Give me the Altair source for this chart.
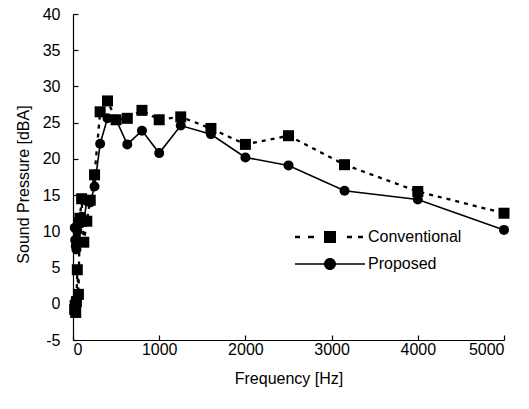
import altair as alt
import pandas as pd

freq = [20, 25, 31.5, 40, 50, 63, 80, 100, 125, 160, 200, 250, 315, 400, 500,
        630, 800, 1000, 1250, 1600, 2000, 2500, 3150, 4000, 5000]
conventional = [-0.8, -0.2, -1.2, 0.3, 4.7, 1.3, 11.8, 14.5, 8.5, 11.4, 14.3, 17.8,
                26.5, 28.0, 25.4, 25.6, 26.7, 25.4, 25.8, 24.2, 22.0, 23.2, 19.2, 15.5, 12.5]
proposed = [10.5, 8.8, 8.0, 7.5, 10.0, 11.5, 11.0, 12.0, 11.3, 14.2, 14.0, 16.2,
            22.1, 25.6, 25.4, 22.0, 23.9, 20.8, 24.6, 23.4, 20.2, 19.1, 15.6, 14.4, 10.2]
series_names = ["Conventional", "Proposed"]
x_ticks = [0, 1000, 2000, 3000, 4000, 5000]
y_ticks = [-5, 0, 5, 10, 15, 20, 25, 30, 35, 40]

rows = []
for f, c, p in zip(freq, conventional, proposed):
    rows.append({"freq": f, "spl": c, "series": "Conventional"})
    rows.append({"freq": f, "spl": p, "series": "Proposed"})
df = pd.DataFrame(rows)

FONT = "Liberation Sans"


def p(v):
    return f"{v / 8:.4f}"


def rect(x0, x1, y0, y1):
    return f"M{p(x0)},{p(y0)}L{p(x1)},{p(y0)}L{p(x1)},{p(y1)}L{p(x0)},{p(y1)}Z"


conv_path = (rect(-35, -30, -1.2, 1.2) + rect(-22, -16, -1.2, 1.2) + rect(-6, 6, -6, 6)
             + rect(17, 22, -1.2, 1.2) + rect(28, 33, -1.2, 1.2))
r = 6
prop_path = (rect(-35, 35, -0.8, 0.8)
             + f"M{p(r)},0A{p(r)},{p(r)} 0 1,1 {p(-r)},0A{p(r)},{p(r)} 0 1,1 {p(r)},0Z")

x_enc = alt.X("freq:Q", scale=alt.Scale(domain=[0, 5000], nice=False),
              axis=alt.Axis(values=x_ticks, title="Frequency [Hz]", labelPadding=6,
                            titlePadding=13, labelExpr="toString(datum.value)"))
y_enc = alt.Y("spl:Q", scale=alt.Scale(domain=[-5, 40], nice=False),
              axis=alt.Axis(values=y_ticks, title="Sound Pressure [dBA]",
                            titleX=-45, titleY=170, titleBaseline="alphabetic",
                            labelPadding=18, labelExpr="toString(datum.value)"))

base = alt.Chart(df)

conv_line = base.transform_filter(alt.datum.series == "Conventional").mark_line(
    color="black", strokeWidth=2.3, strokeDash=[4, 5]).encode(x=x_enc, y=y_enc)
prop_line = base.transform_filter(alt.datum.series == "Proposed").mark_line(
    color="black", strokeWidth=1.6).encode(x=x_enc, y=y_enc)
conv_pts = base.transform_filter(alt.datum.series == "Conventional").mark_point(
    shape="square", filled=True, color="black", opacity=1, size=121).encode(x=x_enc, y=y_enc)
prop_pts = base.transform_filter(alt.datum.series == "Proposed").mark_point(
    shape="circle", filled=True, color="black", opacity=1, size=100).encode(x=x_enc, y=y_enc)

legend_layer = base.mark_point(filled=True, color="black", opacity=0, size=256).encode(
    x=x_enc, y=y_enc,
    shape=alt.Shape("series:N",
                    scale=alt.Scale(domain=series_names, range=[conv_path, prop_path]),
                    legend=alt.Legend(title=None, orient="none", legendX=249, legendY=215,
                                      symbolSize=256, symbolOpacity=1,
                                      symbolFillColor="black", symbolStrokeWidth=0,
                                      labelOffset=30, rowPadding=11, padding=0,
                                      labelFont=FONT, labelFontSize=16,
                                      labelColor="black")))

chart = alt.layer(conv_line, prop_line, conv_pts, prop_pts, legend_layer).properties(
    width=431, height=326,
    autosize=alt.AutoSizeParams(type="none"),
    padding={"left": 73, "top": 14, "right": 25, "bottom": 69},
    background="white",
).configure_view(stroke=None).configure_axis(
    grid=False, labelFont=FONT, titleFont=FONT, labelFontSize=16, titleFontSize=16,
    titleFontWeight="normal", labelColor="black", titleColor="black",
    domainColor="black", tickColor="black", domainWidth=1.2, tickWidth=1.2,
    tickSize={"expr": "-5"},
)

chart.save("out.html", embed_options={"renderer": "svg", "actions": False})
